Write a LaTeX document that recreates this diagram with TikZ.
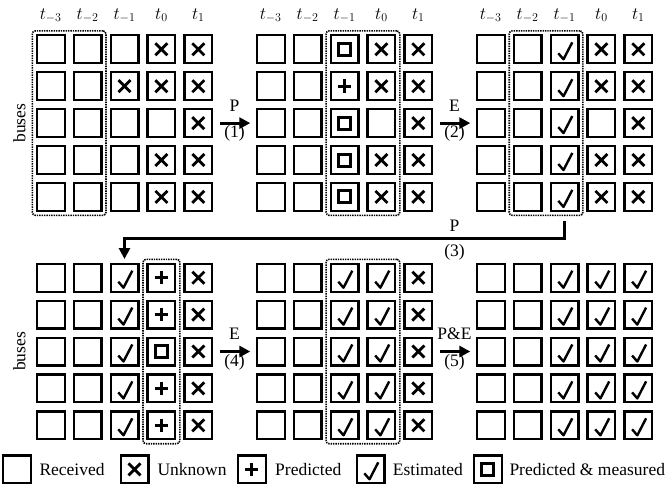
\documentclass[tikz,border=0pt]{standalone}
\usepackage{fontspec}
\setmainfont{Liberation Serif}
\usetikzlibrary{arrows.meta,calc,fit}
\tikzset{
  cell/.style={draw, line width=2.2pt, minimum size=27.8pt, inner sep=0pt, outer sep=0pt},
  dotbox/.style={draw, line width=1.6pt, dash pattern=on 1.4pt off 1pt, rounded corners=3pt, inner sep=4.5pt},
  arr/.style={line width=2.8pt, -{Triangle[length=11pt,width=11pt]}},
  lbl/.style={inner sep=0pt},
}
\newcommand\Celle[1]{}
\newcommand\Cellx[1]{\draw[line width=2.8pt, shift={(#1)}] (-6,-6) -- (6,6) (-6,6) -- (6,-6);}
\newcommand\Cellp[1]{\draw[line width=3pt, shift={(#1)}] (-6.7,0) -- (6.7,0) (0,-6.7) -- (0,6.7);}
\newcommand\Cells[1]{\draw[line width=3pt, shift={(#1)}] (-6,-6) rectangle (6,6);}
\newcommand\Cellc[1]{\draw[line width=2.4pt, line join=round, shift={(#1)}] (-6.2,4) -- (-1,10) -- (7.8,-7);}
\newcommand\mkgrid[4]{%
  \foreach \rw [count=\i] in {#4} {%
    \foreach \s [count=\j] in \rw {%
      \node[cell] (#1-\i-\j) at ({#2+15+(\j-1)*36.9},{#3+15+(\i-1)*36.9}) {};
      \csname Cell\s\endcsname{#1-\i-\j}
    }%
  }%
}
\begin{document}
\begin{tikzpicture}[x=1pt,y=-1pt, font=\fontsize{17.5}{21}\selectfont]
\useasboundingbox (0,0) rectangle (667,487);

% top row grids
\mkgrid{ga}{35.7}{34.3}{{e,e,e,x,x},{e,e,x,x,x},{e,e,e,e,x},{e,e,e,x,x},{e,e,e,x,x}}
\mkgrid{gb}{255.7}{34.3}{{e,e,s,x,x},{e,e,p,x,x},{e,e,s,e,x},{e,e,s,x,x},{e,e,s,x,x}}
\mkgrid{gc}{475.7}{34.3}{{e,e,c,x,x},{e,e,c,x,x},{e,e,c,e,x},{e,e,c,x,x},{e,e,c,x,x}}
% bottom row grids
\mkgrid{gd}{35.7}{262.7}{{e,e,c,p,x},{e,e,c,p,x},{e,e,c,s,x},{e,e,c,p,x},{e,e,c,p,x}}
\mkgrid{ge}{255.7}{262.7}{{e,e,c,c,x},{e,e,c,c,x},{e,e,c,c,x},{e,e,c,c,x},{e,e,c,c,x}}
\mkgrid{gf}{475.7}{262.7}{{e,e,c,c,c},{e,e,c,c,c},{e,e,c,c,c},{e,e,c,c,c},{e,e,c,c,c}}

% column headers
\foreach \g in {ga,gb,gc}{
  \foreach \sub [count=\j] in {-3,-2,-1,0,1}{
    \node[lbl, anchor=base] (\g-h\j) at ($(\g-1-\j.north)+(0,-16)$) {$t_{\sub}$};
  }
}

% buses labels
\node[lbl, rotate=90] (busA) at ($(ga-3-1.west)+(-17.5,0)$) {buses};
\node[lbl, rotate=90] (busB) at ($(gd-3-1.west)+(-17.5,0)$) {buses};

% dotted groupings
\node[dotbox, fit=(ga-1-1)(ga-5-2)] (da) {};
\node[dotbox, fit=(gb-1-3)(gb-5-4)] (db) {};
\node[dotbox, fit=(gc-1-2)(gc-5-3)] (dc) {};
\node[dotbox, fit=(gd-1-4)(gd-5-4)] (dd) {};
\node[dotbox, fit=(ge-1-3)(ge-5-4)] (de) {};

% horizontal arrows
\draw[arr, shorten <=8pt, shorten >=6.5pt] (ga-3-5.east) -- (gb-3-1.west)
  node[lbl, midway, above=10.5pt] {P} node[lbl, midway, below=1pt] {(1)};
\draw[arr, shorten <=8pt, shorten >=6.5pt] (gb-3-5.east) -- (gc-3-1.west)
  node[lbl, midway, above=10.5pt] {E} node[lbl, midway, below=1pt] {(2)};
\draw[arr, shorten <=8pt, shorten >=6.5pt] (gd-3-5.east) -- (ge-3-1.west)
  node[lbl, midway, above=10.5pt] {E} node[lbl, midway, below=1pt] {(4)};
\draw[arr, shorten <=8pt, shorten >=6.5pt] (ge-3-5.east) -- (gf-3-1.west)
  node[lbl, midway, above=10.5pt] {P\&E} node[lbl, midway, below=1pt] {(5)};

% return arrow (3)
\coordinate (k3) at ($(gc-5-3.south)+(0,27.3)$);
\coordinate (mid23) at ($(gb-3-5.east)!0.5!(gc-3-1.west)$);
\draw[arr, shorten <=10pt, shorten >=4.8pt] (gc-5-3.south) -- (k3) -| (gd-1-3.north);
\node[lbl, above=6.6pt] (p3) at (mid23 |- k3) {P};
\node[lbl, below=6pt] (n3) at (mid23 |- k3) {(3)};

% legend
\node[cell] (l1) at (17.2,469.3) {};
\node[cell] (l2) at (134.5,469.3) {};
\node[cell] (l3) at (251.7,469.3) {};
\node[cell] (l4) at (370.5,469.3) {};
\node[cell] (l5) at (487.8,469.3) {};
\Cellx{l2}
\Cellp{l3}
\Cellc{l4}
\Cells{l5}
\node[lbl, anchor=base west] (t1) at (39.3,475) {Received};
\node[lbl, anchor=base west] (t2) at (157.3,475) {Unknown};
\node[lbl, anchor=base west] (t3) at (275,475) {Predicted};
\node[lbl, anchor=base west] (t4) at (392.7,475) {Estimated};
\node[lbl, anchor=base west] (t5) at (509.3,475) {Predicted \& measured};
\end{tikzpicture}
\end{document}
